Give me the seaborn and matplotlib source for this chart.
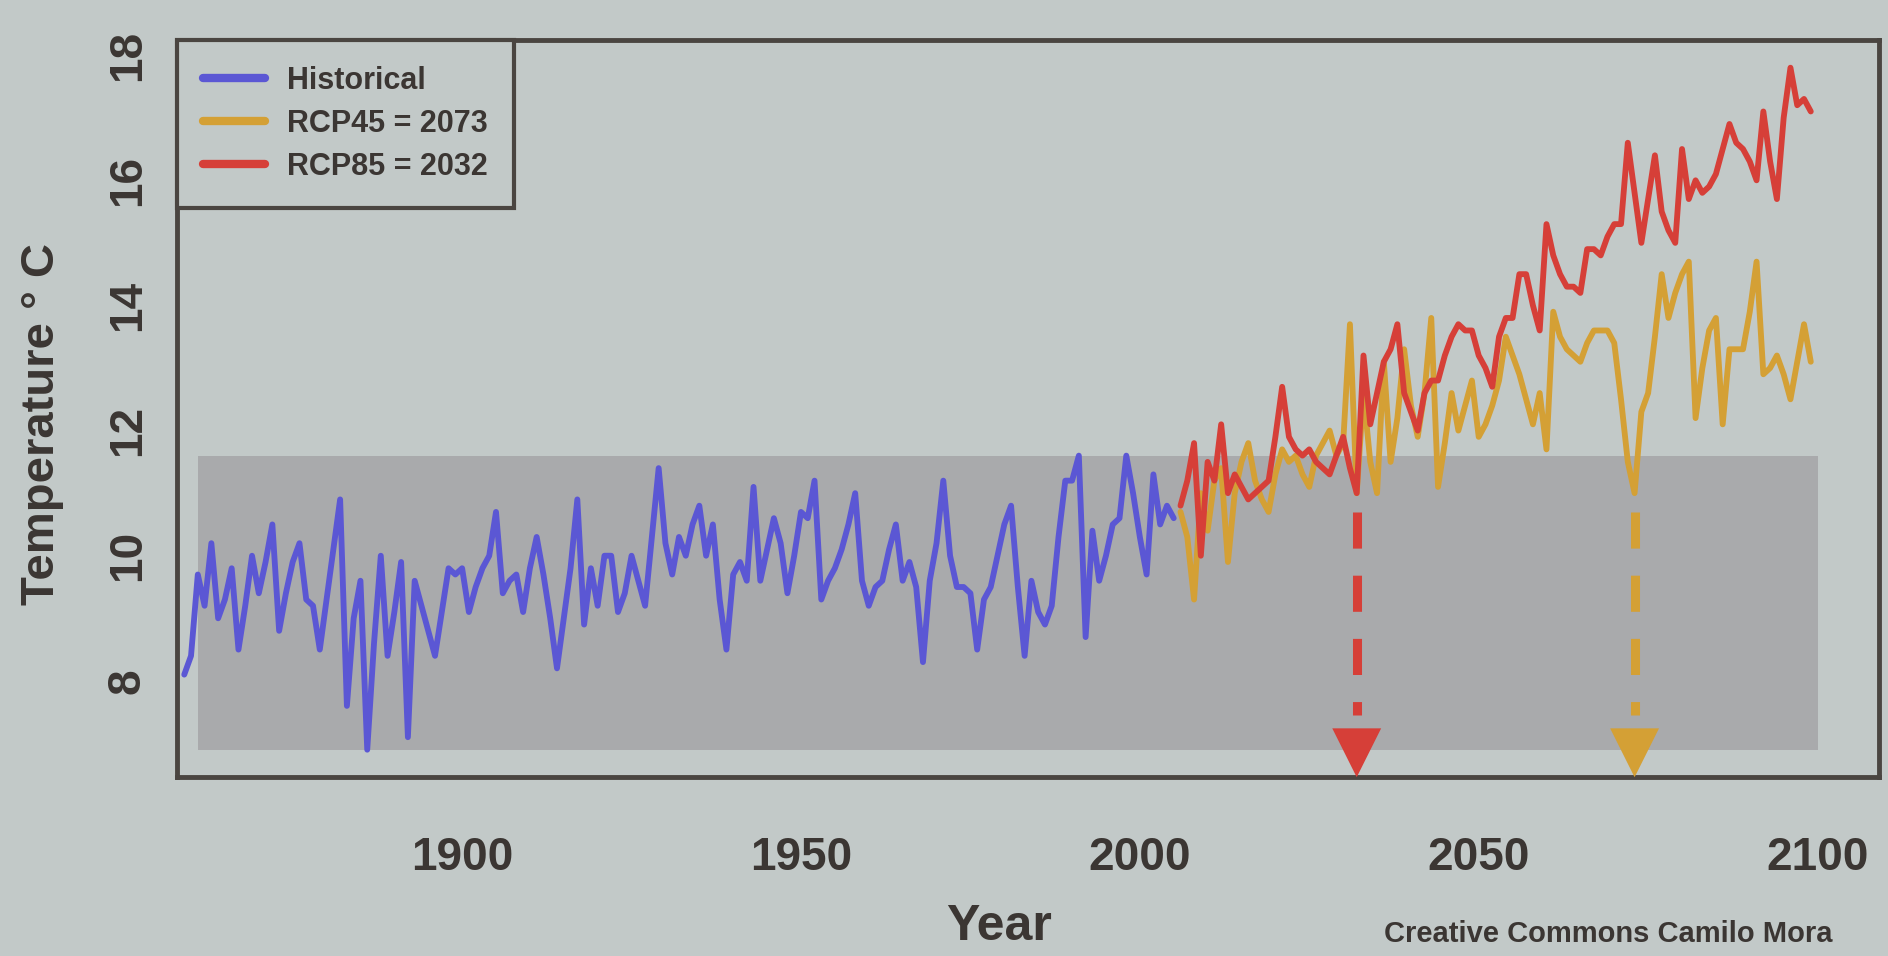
import numpy as np
import pandas as pd
import matplotlib
matplotlib.use("Agg")
import matplotlib.pyplot as plt
import seaborn as sns
from matplotlib.lines import Line2D

# ---- data ----
hist_start = 1859
hist_temp = [
    8.1,                                                    # 1859
    8.4, 9.7, 9.2, 10.2, 9.0, 9.3, 9.8, 8.5, 9.2, 10.0,     # 1860s
    9.4, 9.9, 10.5, 8.8, 9.4, 9.9, 10.2, 9.3, 9.2, 8.5,     # 1870s
    9.3, 10.1, 10.9, 7.6, 9.0, 9.6, 6.9, 8.6, 10.0, 8.4,    # 1880s
    9.1, 9.9, 7.1, 9.6, 9.2, 8.8, 8.4, 9.1, 9.8, 9.7,       # 1890s
    9.8, 9.1, 9.5, 9.8, 10.0, 10.7, 9.4, 9.6, 9.7, 9.1,     # 1900s
    9.8, 10.3, 9.7, 9.0, 8.2, 9.0, 9.8, 10.9, 8.9, 9.8,     # 1910s
    9.2, 10.0, 10.0, 9.1, 9.4, 10.0, 9.6, 9.2, 10.3, 11.4,  # 1920s
    10.2, 9.7, 10.3, 10.0, 10.5, 10.8, 10.0, 10.5, 9.3, 8.5,  # 1930s
    9.7, 9.9, 9.6, 11.1, 9.6, 10.1, 10.6, 10.2, 9.4, 10.0,  # 1940s
    10.7, 10.6, 11.2, 9.3, 9.6, 9.8, 10.1, 10.5, 11.0, 9.6,  # 1950s
    9.2, 9.5, 9.6, 10.1, 10.5, 9.6, 9.9, 9.5, 8.3, 9.6,     # 1960s
    10.2, 11.2, 10.0, 9.5, 9.5, 9.4, 8.5, 9.3, 9.5, 10.0,   # 1970s
    10.5, 10.8, 9.5, 8.4, 9.6, 9.1, 8.9, 9.2, 10.3, 11.2,   # 1980s
    11.2, 11.6, 8.7, 10.4, 9.6, 10.0, 10.5, 10.6, 11.6, 11.0,  # 1990s
    10.3, 9.7, 11.3, 10.5, 10.8, 10.6,                      # 2000-2005
]

proj_start = 2006
rcp45_temp = [
    10.7, 10.3, 9.3, 11.0,
    10.4, 11.2, 11.4, 9.9, 11.0, 11.5, 11.8, 11.2, 10.9, 10.7,
    11.3, 11.7, 11.5, 11.6, 11.3, 11.1, 11.6, 11.8, 12.0, 11.6,
    11.8, 13.7, 11.0, 12.6, 11.5, 11.0, 13.1, 11.5, 12.2, 13.3,
    12.4, 11.9, 12.6, 13.8, 11.1, 11.8, 12.6, 12.0, 12.4, 12.8,
    11.9, 12.1, 12.4, 12.8, 13.5, 13.2, 12.9, 12.5, 12.1, 12.6,
    11.7, 13.9, 13.5, 13.3, 13.2, 13.1, 13.4, 13.6, 13.6, 13.6,
    13.4, 12.5, 11.5, 11.0, 12.3, 12.6, 13.5, 14.5, 13.8, 14.2,
    14.5, 14.7, 12.2, 13.0, 13.6, 13.8, 12.1, 13.3, 13.3, 13.3,
    13.9, 14.7, 12.9, 13.0, 13.2, 12.9, 12.5, 13.1, 13.7, 13.1,
]
rcp85_temp = [
    10.8, 11.2, 11.8, 10.0,
    11.5, 11.2, 12.1, 11.0, 11.3, 11.1, 10.9, 11.0, 11.1, 11.2,
    11.9, 12.7, 11.9, 11.7, 11.6, 11.7, 11.5, 11.4, 11.3, 11.6,
    11.9, 11.4, 11.0, 13.2, 12.1, 12.6, 13.1, 13.3, 13.7, 12.6,
    12.3, 12.0, 12.6, 12.8, 12.8, 13.2, 13.5, 13.7, 13.6, 13.6,
    13.2, 13.0, 12.7, 13.5, 13.8, 13.8, 14.5, 14.5, 14.0, 13.6,
    15.3, 14.8, 14.5, 14.3, 14.3, 14.2, 14.9, 14.9, 14.8, 15.1,
    15.3, 15.3, 16.6, 15.8, 15.0, 15.7, 16.4, 15.5, 15.2, 15.0,
    16.5, 15.7, 16.0, 15.8, 15.9, 16.1, 16.5, 16.9, 16.6, 16.5,
    16.3, 16.0, 17.1, 16.3, 15.7, 17.0, 17.8, 17.2, 17.3, 17.1,
]

departure_years = {"RCP45": 2073, "RCP85": 2032}
legend_labels = ["Historical", "RCP45 = 2073", "RCP85 = 2032"]
x_ticks = [1900, 1950, 2000, 2050, 2100]
y_ticks = [8, 10, 12, 14, 16, 18]
band_years = [1861, 2100]

# ---- colours ----
bg = "#c2c9c8"
band_col = "#a9aaac"
blue = "#5b57d4"
orange = "#d4a035"
red = "#d63f38"
ink = "#3b3633"
frame = "#4a4541"

hist_df = pd.DataFrame({
    "Year": np.arange(hist_start, hist_start + len(hist_temp)),
    "Temp": hist_temp,
})
proj_years = np.arange(proj_start, proj_start + len(rcp45_temp))
proj_df = pd.DataFrame({"Year": proj_years, "RCP45": rcp45_temp, "RCP85": rcp85_temp})
proj_long = proj_df.melt(id_vars="Year", var_name="Scenario", value_name="Temp")

sns.set_theme(style="white")
plt.rcParams["font.family"] = ["Liberation Sans", "DejaVu Sans"]
plt.rcParams["font.weight"] = "bold"

fig = plt.figure(figsize=(18.88, 9.56), dpi=100, facecolor=bg)
ax = fig.add_axes([0.094, 0.187, 0.901, 0.771])
ax.set_facecolor(bg)

# historical range band
lo, hi = min(hist_temp), max(hist_temp)
ax.fill_between(band_years, [lo, lo], [hi, hi], color=band_col, lw=0, zorder=0)

sns.lineplot(data=hist_df, x="Year", y="Temp", color=blue, lw=4.2, ax=ax, legend=False)
sns.lineplot(data=proj_long, x="Year", y="Temp", hue="Scenario",
             hue_order=["RCP45", "RCP85"], palette=[orange, red],
             lw=4.2, ax=ax, legend=False)

ymin, ymax = 6.46, 18.24
ax.set_xlim(1858, 2109)
ax.set_ylim(ymin, ymax)

# departure arrows
for scen, col in [("RCP85", red), ("RCP45", orange)]:
    yr = departure_years[scen]
    val = proj_df.loc[proj_df["Year"] == yr, scen].iloc[0]
    ax.plot([yr, yr], [val - 0.3, 7.45], color=col, lw=6.5, dashes=(4, 3),
            solid_capstyle="butt", dash_capstyle="butt", zorder=3)
    ax.annotate("", xy=(yr, ymin), xytext=(yr, 7.3),
                arrowprops=dict(arrowstyle="-|>,head_length=1.6,head_width=0.8",
                                mutation_scale=22, color=col, lw=0,
                                shrinkA=0, shrinkB=0), zorder=4)

ax.set_xticks(x_ticks)
ax.set_yticks(y_ticks)
ax.tick_params(axis="both", direction="out", width=3, color=frame,
               labelsize=33, labelcolor=ink)
ax.tick_params(axis="x", length=26, pad=16)
ax.tick_params(axis="y", length=18, pad=2)
for lbl in ax.get_yticklabels():
    lbl.set_rotation(90)
    lbl.set_va("center")
ax.set_xlabel("")
ax.set_ylabel("")
for sp in ax.spines.values():
    sp.set_visible(True)
    sp.set_color(frame)
    sp.set_linewidth(3.5)

handles = [Line2D([0], [0], color=c, lw=6) for c in (blue, orange, red)]
leg = ax.legend(handles, legend_labels, loc="upper left", borderaxespad=0,
                fontsize=22, handlelength=2.0, handletextpad=0.75,
                labelspacing=0.42, borderpad=0.85, fancybox=False,
                framealpha=1, facecolor=bg, edgecolor=frame)
leg.get_frame().set_linewidth(3)
for t in leg.get_texts():
    t.set_color(ink)

fig.text(0.022, 0.556, "Temperature ° C", rotation=90, ha="center", va="center",
         fontsize=34, color=ink)
fig.text(0.529, 0.030, "Year", ha="center", va="center", fontsize=36, color=ink)
fig.text(0.733, 0.038, "Creative Commons Camilo Mora", ha="left", va="top",
         fontsize=21, color=ink)

fig.savefig("out.png", dpi=100, facecolor=bg)
